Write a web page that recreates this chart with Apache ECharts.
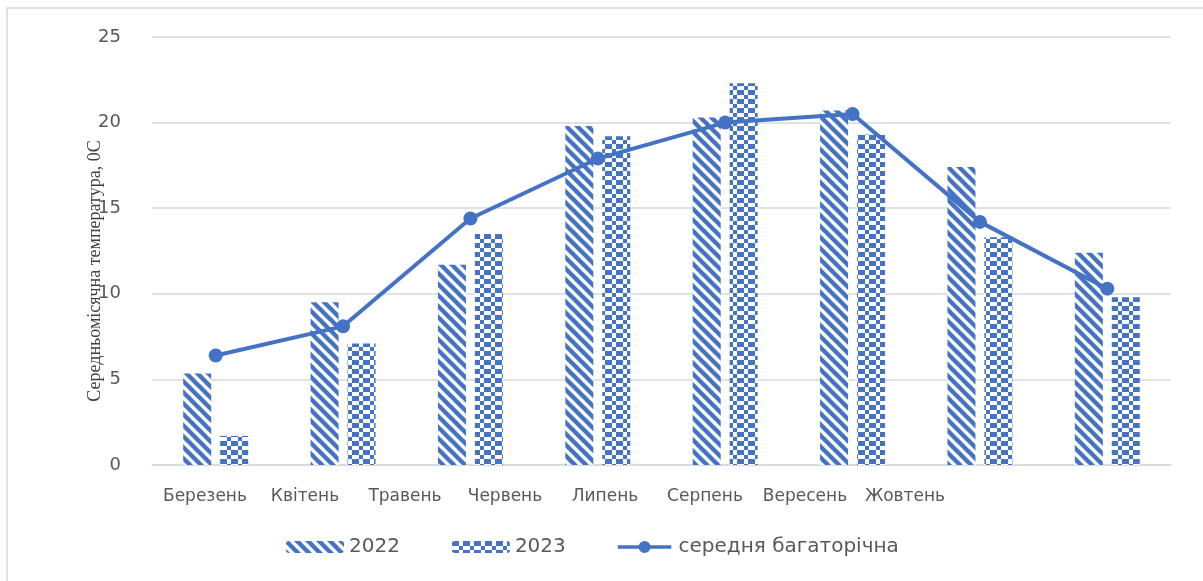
<!DOCTYPE html>
<html>
<head>
<meta charset="utf-8">
<script src="https://cdn.jsdelivr.net/npm/echarts@6/dist/echarts.min.js"></script>
<style>
html,body{margin:0;padding:0;background:#fff;}
#c{width:1203px;height:581px;}
</style>
</head>
<body>
<div id="c"></div>
<script>
var categories = ['Березень','Квітень','Травень','Червень','Липень','Серпень','Вересень','Жовтень'];
var values2022 = [5.35, 9.5, 11.7, 19.8, 20.3, 20.7, 17.4, 12.4];
var values2023 = [1.7, 7.1, 13.5, 19.2, 22.3, 19.3, 13.3, 9.8];
var valuesAvg = [6.4, 8.1, 14.4, 17.9, 20.0, 20.5, 14.2, 10.3];
var seriesNames = ['2022', '2023', 'середня багаторічна'];
var yTitle = 'Середньомісячна температура, 0С';

var BLUE = '#4472C4';
function stripePattern() {
  var s = 11;
  var c = document.createElement('canvas');
  c.width = s; c.height = s;
  var g = c.getContext('2d');
  g.fillStyle = '#fff'; g.fillRect(0,0,s,s);
  g.strokeStyle = BLUE; g.lineWidth = 4.4; g.lineCap = 'square';
  g.beginPath();
  g.moveTo(-3,-3); g.lineTo(s+3,s+3);
  g.moveTo(-s-3,-3); g.lineTo(3,s+3);
  g.moveTo(s-3,-3); g.lineTo(2*s+3,s+3);
  g.stroke();
  return c;
}
function checkPattern() {
  var c = document.createElement('canvas');
  c.width = 11; c.height = 9;
  var g = c.getContext('2d');
  g.fillStyle = '#fff'; g.fillRect(0,0,11,9);
  g.fillStyle = BLUE;
  g.fillRect(0,0,7,5);
  g.fillRect(7,5,4,4);
  return c;
}
var p2022 = {image: stripePattern(), repeat: 'repeat'};
var p2023 = {image: checkPattern(), repeat: 'repeat'};
var lineIcon = 'path://M0,4.5 L58,4.5 L58,8.5 L0,8.5 Z M22.5,6.5 A6.5,6.5 0 1,1 35.5,6.5 A6.5,6.5 0 1,1 22.5,6.5 Z';

var chart = echarts.init(document.getElementById('c'));
var textFont = '"DejaVu Sans", "Liberation Sans", Arial, sans-serif';
chart.setOption({
  backgroundColor: '#fff',
  animation: false,
  graphic: [
    {type: 'rect', shape: {x: 7, y: 8, width: 1220, height: 600}, style: {fill: 'none', stroke: '#d9d9d9', lineWidth: 1.5}, silent: true},
    {type: 'text', x: 95, y: 271, rotation: Math.PI / 2,
     style: {text: yTitle, font: '18px "Liberation Serif", "Times New Roman", serif', fill: '#404040', align: 'center', verticalAlign: 'middle'}}
  ],
  grid: [
    {left: 152, right: 32, top: 37, bottom: 116},
    {left: 155, width: 800, top: 37, bottom: 116}
  ],
  legend: {
    bottom: 19, left: 281,
    itemWidth: 58, itemHeight: 12, itemGap: 52,
    textStyle: {color: '#595959', fontSize: 20, fontFamily: textFont},
    data: [
      {name: seriesNames[0]},
      {name: seriesNames[1]},
      {name: seriesNames[2], icon: lineIcon, itemStyle: {color: BLUE}}
    ]
  },
  xAxis: [
    {type: 'category', gridIndex: 0, data: categories,
     axisLine: {lineStyle: {color: '#d9d9d9', width: 1.5}}, axisTick: {show: false}, axisLabel: {show: false}},
    {type: 'category', gridIndex: 1, data: categories,
     axisLine: {show: false}, axisTick: {show: false},
     axisLabel: {interval: 0, color: '#595959', fontSize: 17, fontFamily: textFont, margin: 23}}
  ],
  yAxis: [
    {type: 'value', gridIndex: 0, min: 0, max: 25, interval: 5,
     axisLine: {show: false}, axisTick: {show: false},
     splitLine: {lineStyle: {color: '#d9d9d9', width: 1.5}},
     axisLabel: {color: '#595959', fontSize: 18, fontFamily: textFont, margin: 31}},
    {type: 'value', gridIndex: 1, min: 0, max: 25, show: false}
  ],
  series: [
    {name: seriesNames[0], type: 'bar', xAxisIndex: 0, yAxisIndex: 0, data: values2022,
     barWidth: 28, barGap: '32%', itemStyle: {color: p2022}},
    {name: seriesNames[1], type: 'bar', xAxisIndex: 0, yAxisIndex: 0, data: values2023,
     barWidth: 28, barGap: '32%', itemStyle: {color: p2023}},
    {name: seriesNames[2], type: 'line', xAxisIndex: 0, yAxisIndex: 0, data: valuesAvg,
     symbol: 'circle', symbolSize: 14,
     lineStyle: {color: BLUE, width: 4}, itemStyle: {color: BLUE}, z: 5}
  ]
});
</script>
</body>
</html>
